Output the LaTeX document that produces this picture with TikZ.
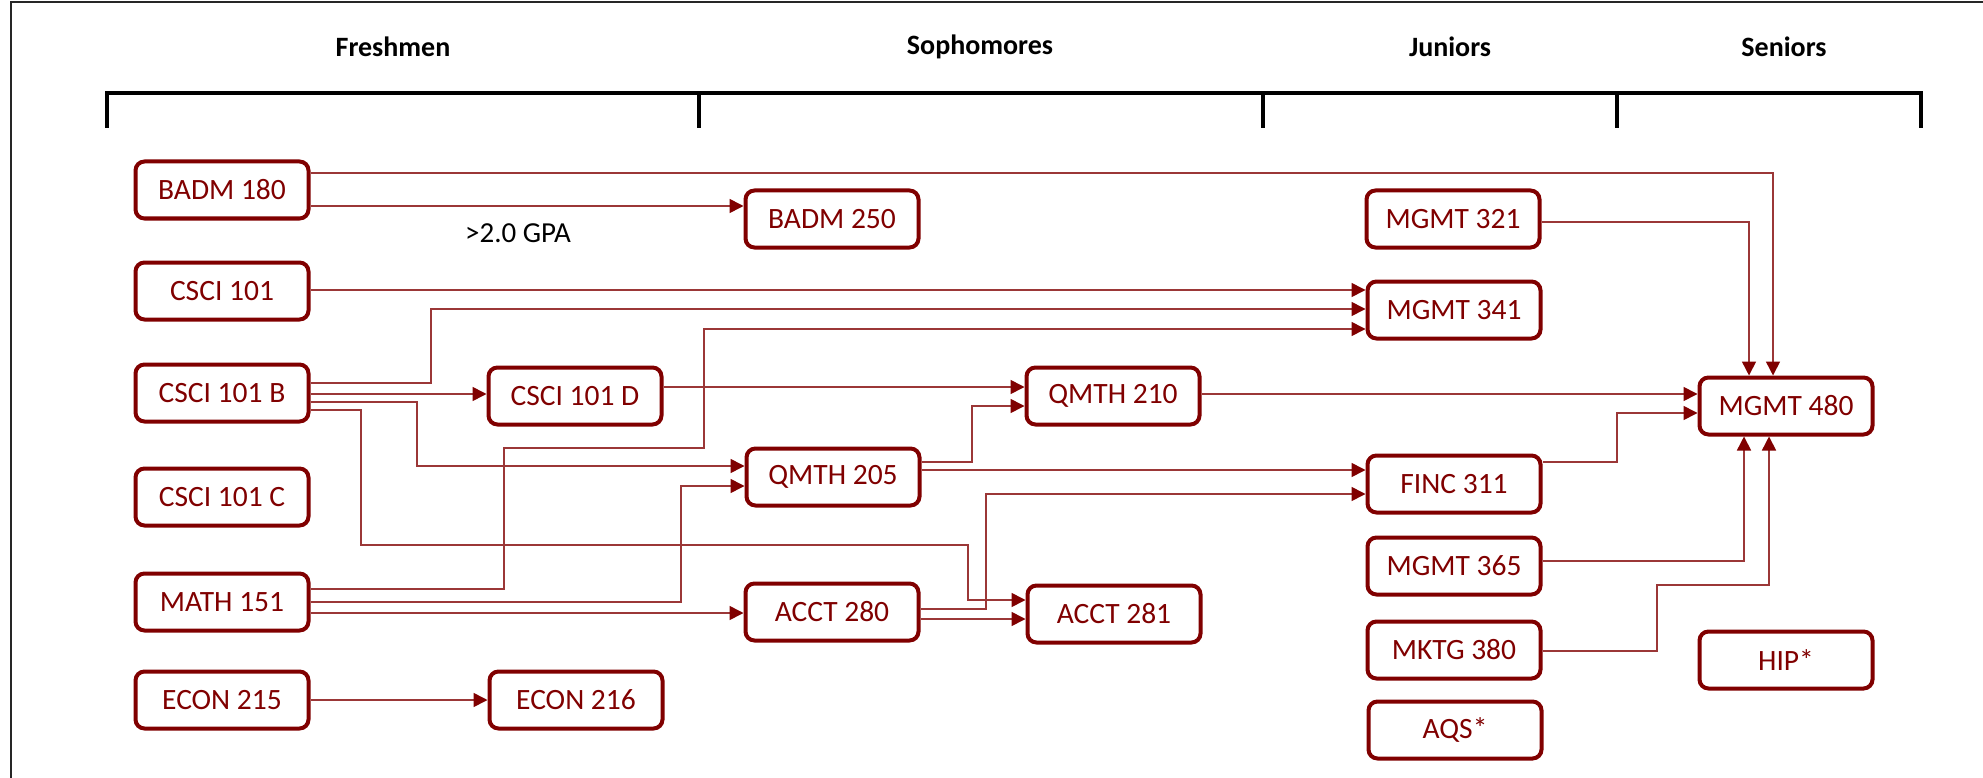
\documentclass[tikz,border=0pt]{standalone}
\usepackage{fontspec}
\setmainfont{Carlito}
\usetikzlibrary{arrows.meta}
\definecolor{maroon}{RGB}{128,0,0}
\definecolor{linered}{RGB}{155,55,55}
\begin{document}
\begin{tikzpicture}[x=1pt,y=-1pt,
  course/.style={draw=maroon, line width=4pt, rounded corners=9pt, minimum width=173pt, minimum height=57pt, text=maroon, font=\fontsize{29.5}{31}\selectfont, inner sep=0pt},
  link/.style={draw=linered, line width=1.6pt, -{Triangle[length=14pt,width=14pt,color=maroon]}},
  header/.style={font=\bfseries\fontsize{28}{30}\selectfont, text=black},
  bracket/.style={line width=3.5pt, black},
  note/.style={font=\fontsize{29}{31}\selectfont, text=black}
]
\useasboundingbox (0,0) rectangle (1983,778);
\draw[line width=2pt, black!85] (11,778) -- (11,2) -- (1983,2);

% headers
\node[header] (hfr) at (393,47) {Freshmen};
\node[header] (hso) at (980,47) {Sophomores};
\node[header] (hju) at (1450,47) {Juniors};
\node[header] (hse) at (1784,47) {Seniors};
\draw[bracket] (107,128) -- (107,93) -- (1921,93) -- (1921,128);
\draw[bracket] (699,93) -- (699,128);
\draw[bracket] (1263,93) -- (1263,128);
\draw[bracket] (1617,93) -- (1617,128);

% freshmen
\node[course] (badm180) at (222,190) {BADM 180};
\node[course] (csci101) at (222,291) {CSCI 101};
\node[course] (csci101b) at (222,393) {CSCI 101 B};
\node[course] (csci101c) at (222,497) {CSCI 101 C};
\node[course] (math151) at (222,602) {MATH 151};
\node[course] (econ215) at (222,700) {ECON 215};
\node[course] (csci101d) at (575,396) {CSCI 101 D};
\node[course] (econ216) at (576,700) {ECON 216};
% sophomores
\node[course] (badm250) at (832,219) {BADM 250};
\node[course] (qmth205) at (833,477) {QMTH 205};
\node[course] (qmth210) at (1113,396) {QMTH 210};
\node[course] (acct280) at (832,612) {ACCT 280};
\node[course] (acct281) at (1114,614) {ACCT 281};
% juniors
\node[course] (mgmt321) at (1453,219) {MGMT 321};
\node[course] (mgmt341) at (1454,310) {MGMT 341};
\node[course] (finc311) at (1454,484) {FINC 311};
\node[course] (mgmt365) at (1454,566) {MGMT 365};
\node[course] (mktg380) at (1454,650) {MKTG 380};
\node[course] (aqs) at (1455,730) {AQS*};
% seniors
\node[course] (mgmt480) at (1786,406) {MGMT 480};
\node[course] (hip) at (1786,660) {HIP*};

% connectors
\draw[link] ([yshift=17pt]badm180.east) -| ([xshift=-13pt]mgmt480.north);
\draw[link] ([yshift=-16pt]badm180.east) -- ([yshift=13pt]badm250.west);
\node[note] (gpa) at (518,233) {>2.0 GPA};
\draw[link] ([yshift=-3pt]mgmt321.east) -| ([xshift=-37pt]mgmt480.north);
\draw[link] ([yshift=1pt]csci101.east) -- ([yshift=20pt]mgmt341.west);
\draw[link] ([yshift=10pt]csci101b.east) -| (431,309) -- ([yshift=1pt]mgmt341.west);
\draw[link] ([yshift=-1pt]csci101b.east) -- ([yshift=2pt]csci101d.west);
\draw[link] ([yshift=-9pt]csci101b.east) -| (417,466) -- ([yshift=11pt]qmth205.west);
\draw[link] ([yshift=-17pt]csci101b.east) -| (361,545) -| (968,600) -- ([yshift=14pt]acct281.west);
\draw[link] ([yshift=13pt]math151.east) -| (504,448) -| (704,329) -- ([yshift=-19pt]mgmt341.west);
\draw[link] (math151.east) -| (681,486) -- ([yshift=-9pt]qmth205.west);
\draw[link] ([yshift=-11pt]math151.east) -- ([yshift=-1pt]acct280.west);
\draw[link] (econ215.east) -- (econ216.west);
\draw[link] ([yshift=9pt]csci101d.east) -- ([yshift=9pt]qmth210.west);
\draw[link] ([yshift=15pt]qmth205.east) -| (972,406) -- ([yshift=-10pt]qmth210.west);
\draw[link] ([yshift=7pt]qmth205.east) -- ([yshift=14pt]finc311.west);
\draw[link] ([yshift=3pt]acct280.east) -| (986,494) -- ([yshift=-10pt]finc311.west);
\draw[link] ([yshift=-7pt]acct280.east) -- ([yshift=-5pt]acct281.west);
\draw[link] ([yshift=2pt]qmth210.east) -- ([yshift=12pt]mgmt480.west);
\draw[link] ([yshift=22pt]finc311.east) -| (1617,413) -- ([yshift=-7pt]mgmt480.west);
\draw[link] ([yshift=5pt]mgmt365.east) -| ([xshift=-42pt]mgmt480.south);
\draw[link] ([yshift=-1pt]mktg380.east) -| (1657,585) -| ([xshift=-17pt]mgmt480.south);
\end{tikzpicture}
\end{document}
